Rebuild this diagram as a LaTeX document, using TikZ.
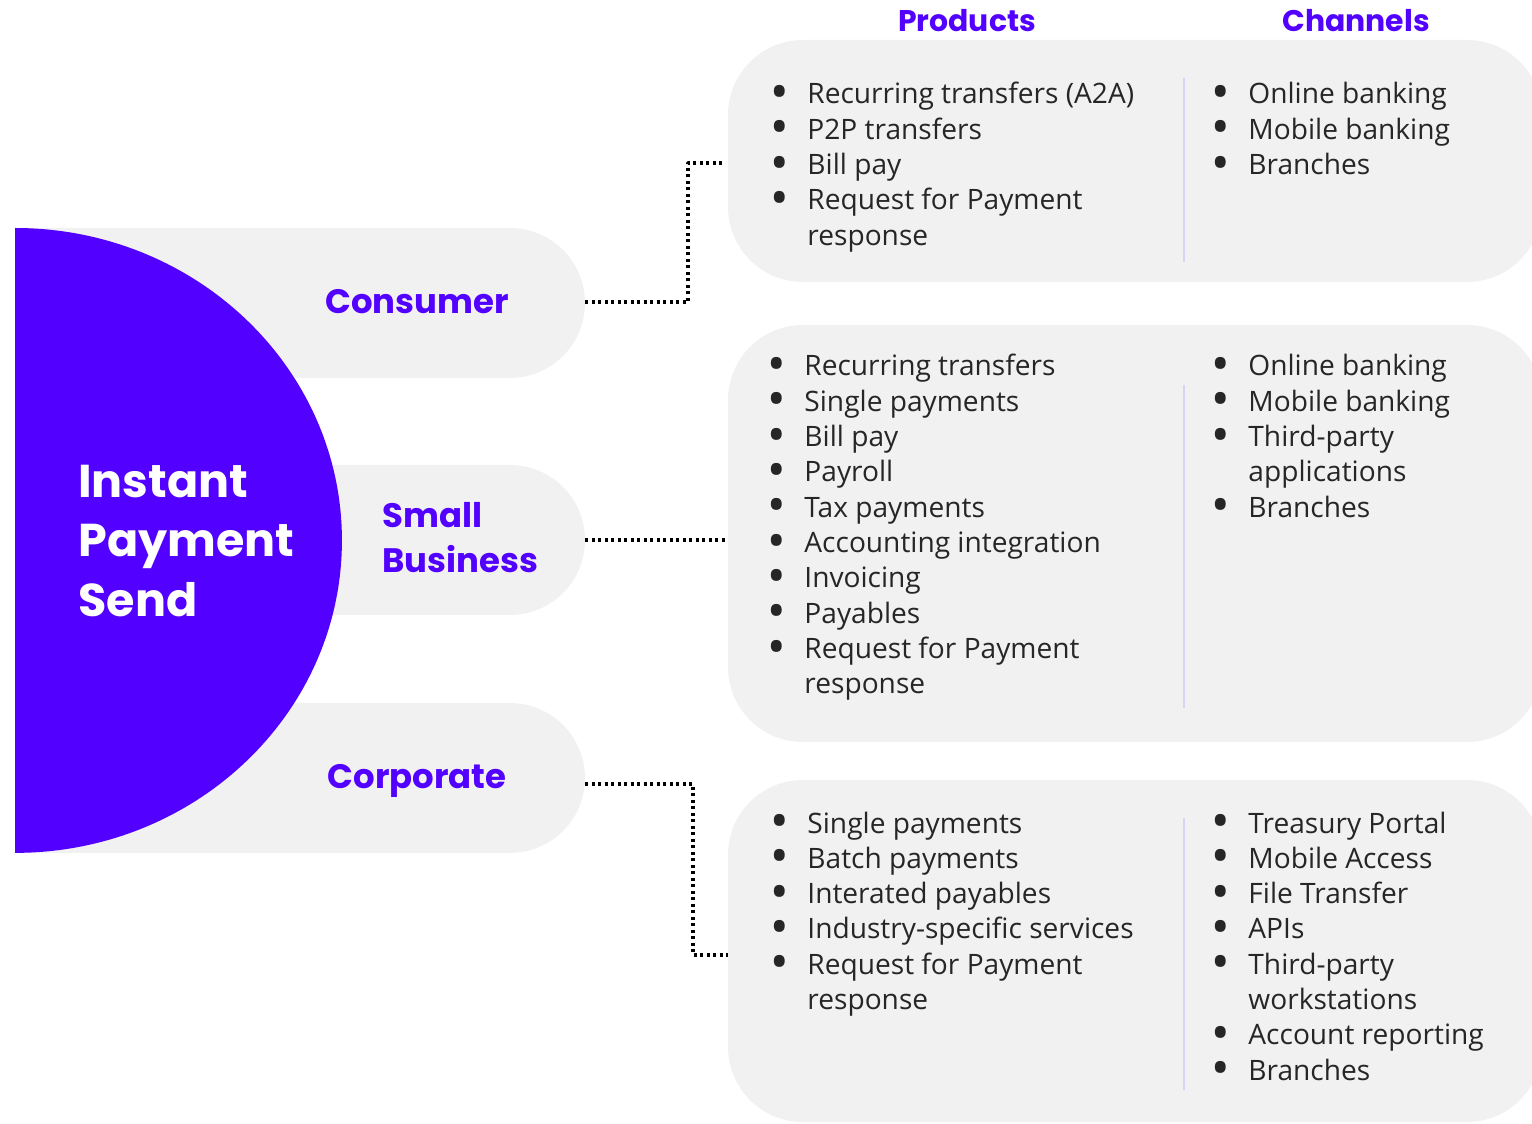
\documentclass[tikz,border=0pt]{standalone}
\usepackage{fontspec}
\setmainfont{Open Sans}
\newfontfamily\headfont{Poppins}
\usetikzlibrary{positioning}

\definecolor{ipsviolet}{HTML}{5200FF}
\definecolor{pillgray}{HTML}{F1F1F1}
\definecolor{rulelav}{HTML}{DAD3F3}
\definecolor{itemtext}{HTML}{262626}

\def\mypx{0.02cm}
\newcommand{\itemrow}[1]{\raisebox{-0.9pt}{\fontsize{22}{0}\selectfont\bfseries\textbullet} & #1\\}
\newcommand{\wraprow}[1]{& #1\\}

\begin{document}
\begin{tikzpicture}[x=\mypx, y=-\mypx, line join=bevel,
>=latex,
link/.style={line width=1.8pt, dash pattern=on 1.8pt off 1.9pt},
pill/.style={fill=pillgray},
panel/.style={fill=pillgray, rounded corners=1.5cm},
divider/.style={draw=rulelav, line width=0.8pt},
seglabel/.style={font=\headfont\bfseries\fontsize{19.3}{25.6}\selectfont, text=ipsviolet, inner sep=0pt, align=left},
colhead/.style={font=\headfont\bfseries\fontsize{17}{20}\selectfont, text=ipsviolet, inner sep=0pt},
items/.style={font=\fontsize{16}{20.1}\selectfont, text=itemtext, inner sep=0pt, anchor=base west},
]
\useasboundingbox (0,0) rectangle (1532,1124);

% segment pills, left ends hidden under the half disc
\fill[pill] (15,228) -- (510,228) arc[start angle=90, end angle=-90, radius=1.5cm] -- (15,378) -- cycle;
\fill[pill] (300,465) -- (510,465) arc[start angle=90, end angle=-90, radius=1.5cm] -- (300,615) -- cycle;
\fill[pill] (15,703) -- (510,703) arc[start angle=90, end angle=-90, radius=1.5cm] -- (15,853) -- cycle;

% half disc
\fill[ipsviolet] (15,228) arc[start angle=90, end angle=-90, x radius=6.54cm, y radius=6.25cm] -- cycle;
\node[seglabel, text=white, anchor=west, font=\headfont\bfseries\fontsize{26.2}{34.1}\selectfont] (ips) at (78,541) {Instant\\Payment\\Send};

\node[seglabel] (consumer) at (417,302) {Consumer};
\node[seglabel, anchor=west] (smallbiz) at (382,538) {Small\\Business};
\node[seglabel] (corporate) at (417,781) {Corporate};

% panels
\fill[panel] (728,40) rectangle (1542,282);
\fill[panel] (728,325) rectangle (1542,742);
\fill[panel] (728,780) rectangle (1542,1122);

\node[colhead] (prodhead) at (967,21) {Products};
\node[colhead] (chanhead) at (1356,21) {Channels};

\draw[divider] (1184,78) -- (1184,262);
\draw[divider] (1184,385) -- (1184,708);
\draw[divider] (1184,818) -- (1184,1090);

% consumer
\node[items] (consprod) at (772,104) {\begin{tabular}[t]{@{}l@{\hspace{11.7pt}}l@{}}
\itemrow{Recurring transfers (A2A)}
\itemrow{P2P transfers}
\itemrow{Bill pay}
\itemrow{Request for Payment}
\wraprow{response}
\end{tabular}};
\node[items] (conschan) at (1213,104) {\begin{tabular}[t]{@{}l@{\hspace{11.7pt}}l@{}}
\itemrow{Online banking}
\itemrow{Mobile banking}
\itemrow{Branches}
\end{tabular}};

% small business
\node[items] (smbprod) at (769,376) {\begin{tabular}[t]{@{}l@{\hspace{11.7pt}}l@{}}
\itemrow{Recurring transfers}
\itemrow{Single payments}
\itemrow{Bill pay}
\itemrow{Payroll}
\itemrow{Tax payments}
\itemrow{Accounting integration}
\itemrow{Invoicing}
\itemrow{Payables}
\itemrow{Request for Payment}
\wraprow{response}
\end{tabular}};
\node[items] (smbchan) at (1213,376) {\begin{tabular}[t]{@{}l@{\hspace{11.7pt}}l@{}}
\itemrow{Online banking}
\itemrow{Mobile banking}
\itemrow{Third-party}
\wraprow{applications}
\itemrow{Branches}
\end{tabular}};

% corporate
\node[items] (corpprod) at (772,833) {\begin{tabular}[t]{@{}l@{\hspace{11.7pt}}l@{}}
\itemrow{Single payments}
\itemrow{Batch payments}
\itemrow{Interated payables}
\itemrow{Industry-specific services}
\itemrow{Request for Payment}
\wraprow{response}
\end{tabular}};
\node[items] (corpchan) at (1213,833) {\begin{tabular}[t]{@{}l@{\hspace{11.7pt}}l@{}}
\itemrow{Treasury Portal}
\itemrow{Mobile Access}
\itemrow{File Transfer}
\itemrow{APIs}
\itemrow{Third-party}
\wraprow{workstations}
\itemrow{Account reporting}
\itemrow{Branches}
\end{tabular}};

% dotted links
\coordinate (cons-e) at (585,302);
\coordinate (smb-e) at (585,540);
\coordinate (corp-e) at (585,784);
\coordinate (panel1-w) at (725,163);
\coordinate (panel2-w) at (728,540);
\coordinate (panel3-w) at (728,955);

\draw[link] (cons-e) -- ++(103,0) |- (panel1-w);
\draw[link] (smb-e) -- (panel2-w);
\draw[link] (corp-e) -- ++(108,0) |- (panel3-w);
\end{tikzpicture}
\end{document}
